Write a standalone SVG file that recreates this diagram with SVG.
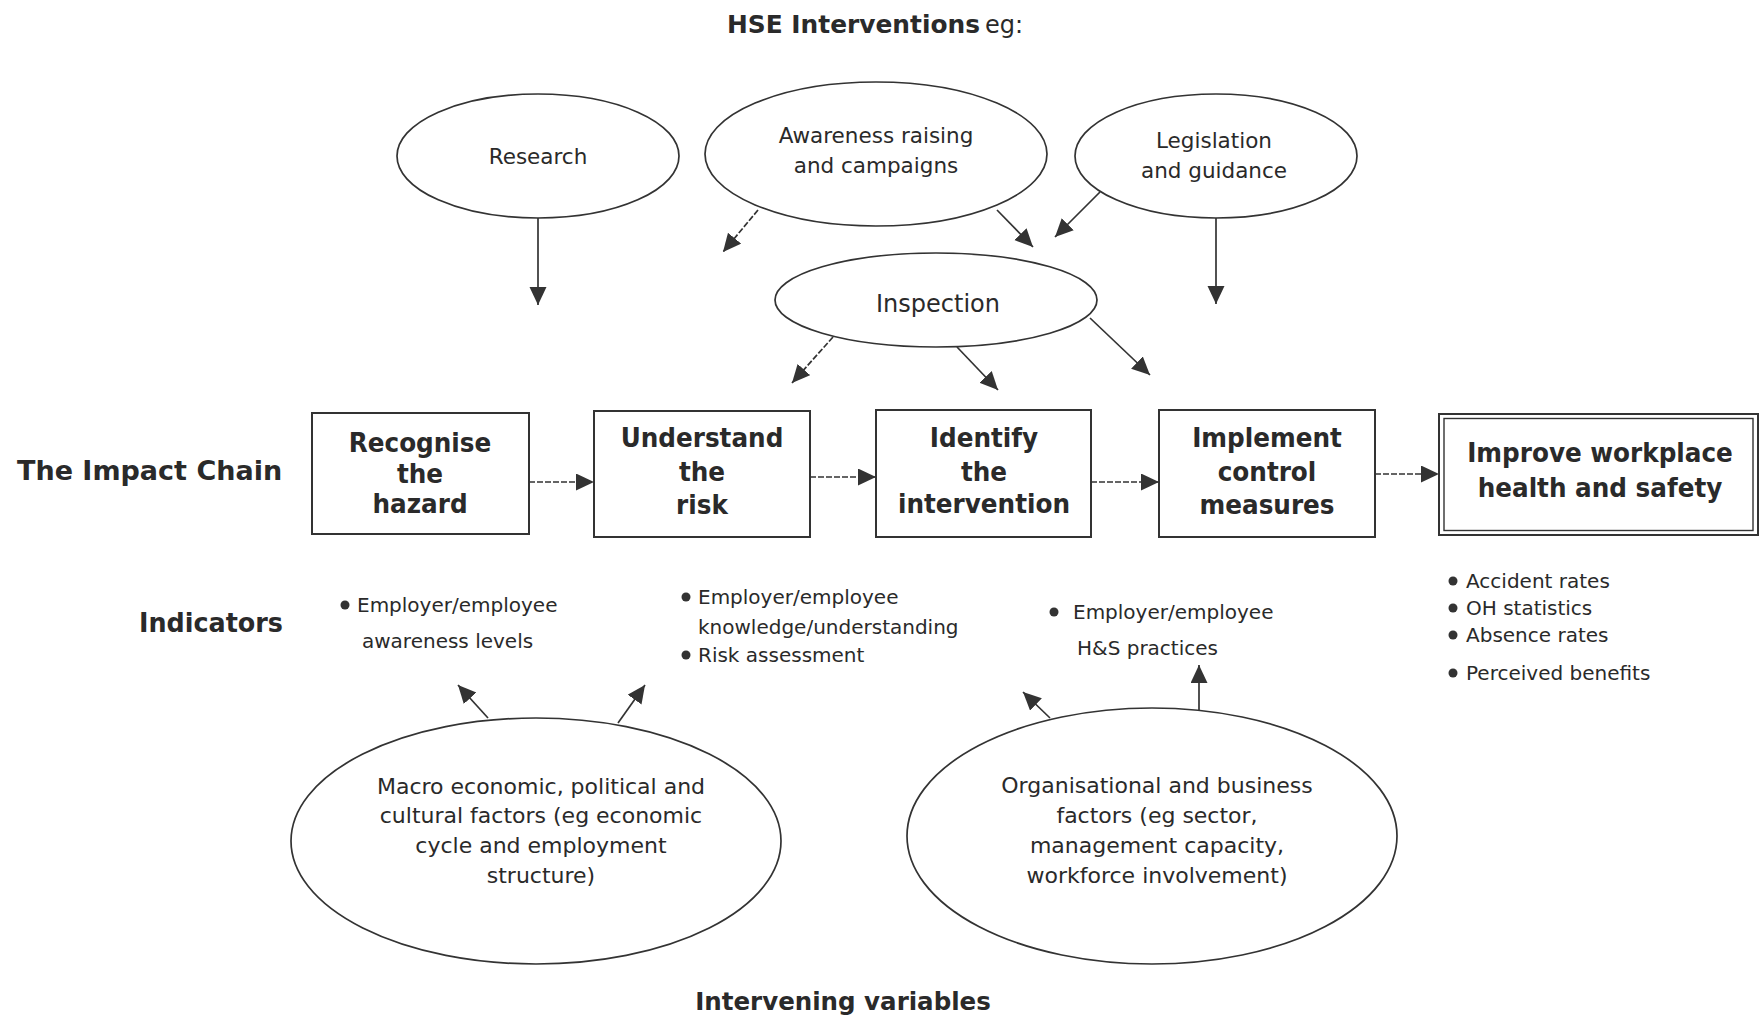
<svg xmlns="http://www.w3.org/2000/svg" width="1760" height="1018" viewBox="0 0 1760 1018">
  <defs>
    <marker id="ah" markerUnits="userSpaceOnUse" markerWidth="20" markerHeight="18" refX="18" refY="8.5" orient="auto">
      <path d="M0,0 L18,8.5 L0,17 z" fill="#333"/>
    </marker>
    <style>
      .t{font-family:"DejaVu Sans",Verdana,sans-serif;fill:#2a2a2a}
      .b{font-weight:bold}
      .m{text-anchor:middle}
      .n{font-size:21.5px}
      .s{font-size:20px}
      .f{font-size:22px}
      .bx{font-size:27px}
      .oval{fill:none;stroke:#333;stroke-width:1.7}
      .box{fill:#fff;stroke:#333;stroke-width:2}
      .dot{fill:#333}
      .c{fill:none;stroke:#333;stroke-width:1.7;marker-end:url(#ah)}
      .d{stroke-dasharray:6 2}
    </style>
  </defs>

  <rect width="1760" height="1018" fill="#fff"/>

  <!-- headings -->
  <g id="headings">
    <text class="t b" x="727" y="33" font-size="25" textLength="253" lengthAdjust="spacingAndGlyphs">HSE Interventions</text>
    <text class="t" x="985" y="33" font-size="24">eg:</text>
    <text class="t b" x="17" y="480" font-size="27">The Impact Chain</text>
    <text class="t b" x="139" y="632" font-size="26" textLength="144" lengthAdjust="spacingAndGlyphs">Indicators</text>
    <text class="t b m" x="843" y="1010" font-size="24.5">Intervening variables</text>
  </g>

  <!-- HSE interventions -->
  <g id="research">
    <ellipse class="oval" cx="538" cy="156" rx="141" ry="62"/>
    <text class="t m n" x="538" y="164">Research</text>
  </g>
  <g id="awareness">
    <ellipse class="oval" cx="876" cy="154" rx="171" ry="72"/>
    <text class="t m n" x="876" y="143">Awareness raising</text>
    <text class="t m n" x="876" y="173">and campaigns</text>
  </g>
  <g id="legislation">
    <ellipse class="oval" cx="1216" cy="156" rx="141" ry="62"/>
    <text class="t m n" x="1214" y="148">Legislation</text>
    <text class="t m n" x="1214" y="178">and guidance</text>
  </g>
  <g id="inspection">
    <ellipse class="oval" cx="936" cy="300" rx="161" ry="47"/>
    <text class="t m" x="938" y="312" font-size="24">Inspection</text>
  </g>

  <!-- impact chain -->
  <g id="recognise">
    <rect class="box" x="312" y="413" width="217" height="121"/>
    <g transform="translate(420 0) scale(0.915 1)">
      <text class="t b m bx" x="0" y="452">Recognise</text>
      <text class="t b m bx" x="0" y="483">the</text>
      <text class="t b m bx" x="0" y="513">hazard</text>
    </g>
  </g>
  <g id="understand">
    <rect class="box" x="594" y="411" width="216" height="126"/>
    <g transform="translate(702 0) scale(0.915 1)">
      <text class="t b m bx" x="0" y="447">Understand</text>
      <text class="t b m bx" x="0" y="481">the</text>
      <text class="t b m bx" x="0" y="514">risk</text>
    </g>
  </g>
  <g id="identify">
    <rect class="box" x="876" y="410" width="215" height="127"/>
    <g transform="translate(984 0) scale(0.915 1)">
      <text class="t b m bx" x="0" y="447">Identify</text>
      <text class="t b m bx" x="0" y="481">the</text>
      <text class="t b m bx" x="0" y="513">intervention</text>
    </g>
  </g>
  <g id="implement">
    <rect class="box" x="1159" y="410" width="216" height="127"/>
    <g transform="translate(1267 0) scale(0.915 1)">
      <text class="t b m bx" x="0" y="447">Implement</text>
      <text class="t b m bx" x="0" y="481">control</text>
      <text class="t b m bx" x="0" y="514">measures</text>
    </g>
  </g>
  <g id="improve">
    <rect class="box" x="1439" y="414" width="319" height="121" stroke-width="2.6"/>
    <rect x="1444" y="418.5" width="309" height="112" fill="none" stroke="#333" stroke-width="1.4"/>
    <g transform="translate(1600 0) scale(0.915 1)">
      <text class="t b m bx" x="0" y="462">Improve workplace</text>
      <text class="t b m bx" x="0" y="497">health and safety</text>
    </g>
  </g>

  <!-- indicators -->
  <g id="ind-awareness">
    <circle class="dot" cx="345" cy="605" r="4.5"/>
    <text class="t s" x="357" y="612">Employer/employee</text>
    <text class="t s" x="362" y="648">awareness levels</text>
  </g>
  <g id="ind-knowledge">
    <circle class="dot" cx="686" cy="597" r="4.5"/>
    <text class="t s" x="698" y="604">Employer/employee</text>
    <text class="t s" x="698" y="634">knowledge/understanding</text>
    <circle class="dot" cx="686" cy="655" r="4.5"/>
    <text class="t s" x="698" y="662">Risk assessment</text>
  </g>
  <g id="ind-practices">
    <circle class="dot" cx="1054" cy="612" r="4.5"/>
    <text class="t s" x="1073" y="619">Employer/employee</text>
    <text class="t s" x="1077" y="655">H&amp;S practices</text>
  </g>
  <g id="ind-outcomes">
    <circle class="dot" cx="1453" cy="581" r="4.5"/>
    <text class="t s" x="1466" y="588">Accident rates</text>
    <circle class="dot" cx="1453" cy="608" r="4.5"/>
    <text class="t s" x="1466" y="615">OH statistics</text>
    <circle class="dot" cx="1453" cy="635" r="4.5"/>
    <text class="t s" x="1466" y="642">Absence rates</text>
    <circle class="dot" cx="1453" cy="673" r="4.5"/>
    <text class="t s" x="1466" y="680">Perceived benefits</text>
  </g>

  <!-- intervening variables -->
  <g id="macro">
    <ellipse class="oval" cx="536" cy="841" rx="245" ry="123"/>
    <text class="t m f" x="541" y="794">Macro economic, political and</text>
    <text class="t m f" x="541" y="823">cultural factors (eg economic</text>
    <text class="t m f" x="541" y="853">cycle and employment</text>
    <text class="t m f" x="541" y="883">structure)</text>
  </g>
  <g id="organisational">
    <ellipse class="oval" cx="1152" cy="836" rx="245" ry="128"/>
    <text class="t m f" x="1157" y="793">Organisational and business</text>
    <text class="t m f" x="1157" y="823">factors (eg sector,</text>
    <text class="t m f" x="1157" y="853">management capacity,</text>
    <text class="t m f" x="1157" y="883">workforce involvement)</text>
  </g>

  <!-- connectors -->
  <g id="connectors">
    <path class="c" d="M538,218 L538,305"/>
    <path class="c d" d="M758,210 L723,252"/>
    <path class="c" d="M997,210 L1033,247"/>
    <path class="c" d="M1100,192 L1055,237"/>
    <path class="c" d="M1216,218 L1216,304"/>
    <path class="c d" d="M833,337 L792,383"/>
    <path class="c" d="M957,347 L998,390"/>
    <path class="c" d="M1090,318 L1150,375"/>
    <path class="c d" d="M529,482 L594,482"/>
    <path class="c d" d="M810,477 L876,477"/>
    <path class="c d" d="M1091,482 L1159,482"/>
    <path class="c d" d="M1375,474 L1439,474"/>
    <path class="c" d="M488,718 L458,685"/>
    <path class="c" d="M618,723 L645,685"/>
    <path class="c" d="M1050,718 L1023,692"/>
    <path class="c" d="M1199,710 L1199,665"/>
  </g>
</svg>
